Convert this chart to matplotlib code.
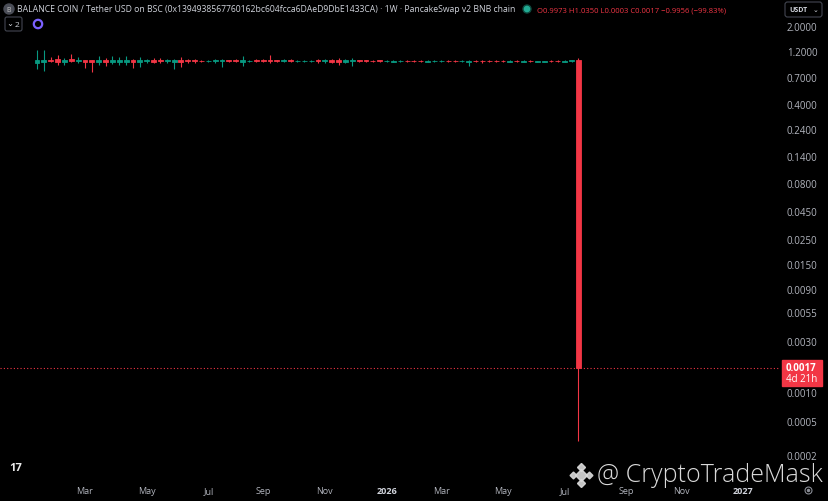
import numpy as np
import pandas as pd
import matplotlib
matplotlib.use("Agg")
import matplotlib.pyplot as plt
import matplotlib.dates as mdates
from matplotlib.patches import FancyBboxPatch, Rectangle, Circle

plt.rcParams['font.family'] = ['Open Sans', 'DejaVu Sans']

# weekly candles, BALANCE COIN / USDT
weeks = pd.date_range("2025-01-13", periods=80, freq="7D")

opens = [0.94, 0.95, 1.00, 1.01, 0.95, 1.02, 0.97, 1.00, 0.99, 0.96,
         0.99, 0.96, 0.96, 0.96, 1.00, 0.96, 0.97, 0.99, 0.99, 0.97,
         0.96, 1.00, 0.99, 0.99, 0.98, 0.97, 0.97, 0.97, 0.99, 0.99,
         0.96, 0.97, 0.99, 0.99, 0.99, 0.99, 0.97, 0.99, 0.97, 0.97,
         0.97, 0.99, 0.97, 0.99, 0.99, 0.96, 0.97, 0.99, 0.99, 0.98,
         0.99, 0.97, 0.96, 0.97, 0.98, 0.98, 0.98, 0.96, 0.97, 0.97,
         0.98, 0.98, 0.97, 0.96, 0.98, 0.98, 0.98, 0.98, 0.98, 0.96,
         0.98, 0.96, 0.98, 0.96, 0.96, 0.98, 0.98, 0.96, 0.97, 0.9973]
highs = [1.22, 1.22, 1.06, 1.10, 1.04, 1.13, 1.05, 1.00, 1.00, 1.08,
         1.04, 1.08, 1.06, 1.08, 1.02, 1.06, 1.02, 1.04, 1.04, 1.02,
         1.01, 1.06, 1.02, 1.02, 1.00, 0.99, 1.01, 1.01, 1.00, 1.01,
         1.08, 1.00, 1.01, 1.01, 1.10, 1.00, 1.01, 1.01, 1.00, 1.00,
         1.00, 1.01, 1.02, 1.02, 1.04, 1.02, 1.03, 1.00, 1.00, 1.00,
         1.00, 0.99, 0.99, 0.99, 0.99, 0.99, 0.99, 0.99, 0.99, 0.99,
         0.99, 0.99, 0.99, 0.99, 0.99, 0.99, 0.99, 0.99, 0.99, 0.99,
         0.99, 0.99, 0.99, 0.98, 0.98, 0.99, 0.99, 0.99, 1.00, 1.035]
lows = [0.83, 0.79, 0.95, 0.90, 0.90, 0.95, 0.94, 0.84, 0.78, 0.90,
        0.88, 0.92, 0.90, 0.90, 0.84, 0.86, 0.94, 0.94, 0.94, 0.94,
        0.82, 0.86, 0.94, 0.94, 0.95, 0.95, 0.94, 0.86, 0.95, 0.95,
        0.88, 0.95, 0.95, 0.95, 0.94, 0.95, 0.95, 0.95, 0.95, 0.95,
        0.95, 0.94, 0.94, 0.94, 0.90, 0.94, 0.88, 0.96, 0.96, 0.95,
        0.95, 0.95, 0.95, 0.96, 0.96, 0.96, 0.96, 0.95, 0.96, 0.96,
        0.96, 0.96, 0.96, 0.88, 0.96, 0.93, 0.96, 0.96, 0.96, 0.95,
        0.96, 0.95, 0.96, 0.95, 0.95, 0.96, 0.96, 0.95, 0.96, 0.0003]
closes = [1.00, 0.99, 0.97, 0.95, 0.99, 0.97, 1.00, 0.95, 0.96, 1.00,
          0.96, 1.00, 0.99, 1.00, 0.96, 0.99, 0.99, 0.96, 0.97, 0.99,
          0.99, 0.96, 0.97, 0.97, 0.97, 0.98, 0.99, 0.99, 0.97, 0.97,
          0.99, 0.98, 0.97, 0.97, 0.97, 0.97, 0.99, 0.97, 0.98, 0.98,
          0.98, 0.97, 0.99, 0.96, 0.96, 0.99, 0.99, 0.97, 0.97, 0.97,
          0.97, 0.98, 0.98, 0.98, 0.97, 0.97, 0.97, 0.98, 0.98, 0.98,
          0.97, 0.97, 0.98, 0.98, 0.97, 0.97, 0.97, 0.97, 0.97, 0.97,
          0.97, 0.98, 0.97, 0.97, 0.97, 0.97, 0.97, 0.98, 0.997, 0.0017]

price_ticks = [2.0, 1.2, 0.7, 0.4, 0.24, 0.14, 0.08, 0.045, 0.025, 0.015,
               0.009, 0.0055, 0.003, 0.001, 0.0005, 0.0002]
month_dates = ["2025-03-03", "2025-05-05", "2025-07-07", "2025-09-01",
               "2025-11-03", "2026-01-05", "2026-03-02", "2026-05-04",
               "2026-07-06", "2026-09-07", "2026-11-02", "2027-01-04"]
month_labels = ["Mar", "May", "Jul", "Sep", "Nov", "2026", "Mar", "May",
                "Jul", "Sep", "Nov", "2027"]
last_price = 0.0017

UP = '#089981'
DOWN = '#f23645'
TXT = '#b2b5be'


def fwd(v):
    return np.log10(np.clip(v, 0, None) + 1e-4)


def inv(v):
    return 10 ** np.asarray(v) - 1e-4


fig = plt.figure(figsize=(8.29, 5.02), dpi=100, facecolor='black')
ax = fig.add_axes([0, 22 / 502, 780 / 829, 480 / 502], facecolor='black')
ax.set_yscale('function', functions=(fwd, inv))

x = mdates.date2num(weeks)
o = np.array(opens)
c = np.array(closes)
cols = [UP if cc >= oo else DOWN for oo, cc in zip(o, c)]
ax.vlines(x, lows, highs, colors=cols, linewidth=0.8, zorder=2)
ax.bar(x, np.abs(c - o), width=5, bottom=np.minimum(o, c), color=cols,
       edgecolor=cols, linewidth=0.6, zorder=3)

ax.axhline(last_price, color=DOWN, linestyle=(0, (1, 2)), linewidth=0.8,
           zorder=1)

ax.set_xlim(x[0] - 37.8, x[-1] + 205.9)
ax.set_ylim(8.37e-5, 3.48)
for s in ax.spines.values():
    s.set_visible(False)

ax.yaxis.tick_right()
ax.set_yticks(price_ticks)
ax.set_yticklabels(['%.4f' % p for p in price_ticks])
ax.yaxis.set_minor_locator(matplotlib.ticker.NullLocator())
ax.tick_params(axis='y', length=0, pad=5, labelsize=7, labelcolor=TXT)

ax.set_xticks(mdates.date2num(pd.to_datetime(month_dates)))
ax.set_xticklabels(month_labels)
ax.tick_params(axis='x', length=0, pad=5, labelsize=6.5, labelcolor=TXT)
for lab in ax.get_xticklabels():
    if lab.get_text().isdigit():
        lab.set_fontweight('bold')
        lab.set_color('#d1d4dc')

# overlay in pixel coordinates for the header and decorations
ov = fig.add_axes([0, 0, 1, 1])
ov.set_xlim(0, 829)
ov.set_ylim(502, 0)
ov.axis('off')
ov.patch.set_alpha(0)

ov.add_patch(Circle((9, 10), 5, color='#4a4d57'))
ov.text(9, 10.5, 'B', color='#c0c0c0', fontsize=5, ha='center', va='center')
ov.text(17, 10, 'BALANCE COIN / Tether USD on BSC '
        '(0x1394938567760162bc604fcca6DAeD9DbE1433CA) · 1W · '
        'PancakeSwap v2 BNB chain', color='#d1d4dc', fontsize=6.2,
        va='center', ha='left')
ov.add_patch(Circle((527, 10), 4, color='#0f4a3f'))
ov.add_patch(Circle((527, 10), 2.6, color='#22ab94'))
ov.text(537, 10.5, 'O0.9973 H1.0350 L0.0003 C0.0017 −0.9956 (−99.83%)',
        color=DOWN, fontsize=5.5, va='center', ha='left')

ov.add_patch(FancyBboxPatch((5, 18), 17, 14, boxstyle='round,pad=0,rounding_size=2',
                            facecolor='black', edgecolor='#434651', linewidth=0.8))
ov.text(10, 25, '⌄', color='#d1d4dc', fontsize=6, ha='center', va='center')
ov.text(17, 25.5, '2', color='#d1d4dc', fontsize=6, ha='center', va='center')
ov.add_patch(Circle((38, 25), 4.2, facecolor='none', edgecolor='#7b61ff',
                    linewidth=1.6))

ov.add_patch(FancyBboxPatch((785, 3), 37, 15, boxstyle='round,pad=0,rounding_size=2.5',
                            facecolor='black', edgecolor='#434651', linewidth=0.8))
ov.text(789, 10.8, 'USDT', color='#d1d4dc', fontsize=5, fontweight='bold',
        va='center', ha='left')
ov.text(816, 10, '⌄', color='#d1d4dc', fontsize=5, va='center', ha='center')

ov.add_patch(Rectangle((782, 361), 40, 26, color=DOWN))
ov.text(786, 368.5, '%.4f' % last_price, color='white', fontsize=7,
        fontweight='bold', va='center', ha='left')
ov.text(786, 380, '4d 21h', color='white', fontsize=7, va='center', ha='left')

ov.text(16, 469, '17', color='#e8e8e8', fontsize=8, fontweight='bold',
        ha='center', va='center')
ov.plot([808], [491], marker='o', ms=5, mfc='none', mec='#8a8d96', mew=0.8)
ov.plot([808], [491], marker='o', ms=1.5, color='#8a8d96')

# watermark
for dx, dy, ms in [(0, 0, 6), (-8, 0, 3.5), (8, 0, 3.5), (0, -8, 4), (0, 8, 4)]:
    ov.plot([581 + dx], [476 + dy], marker='D', ms=ms, color='#d9d9d9',
            alpha=0.9)
ov.text(597, 476, '@ CryptoTradeMask', color='#e6e6e6', fontsize=18,
        fontweight='light', va='center', ha='left', alpha=0.95)

fig.savefig('out.png', dpi=100, facecolor='black')
